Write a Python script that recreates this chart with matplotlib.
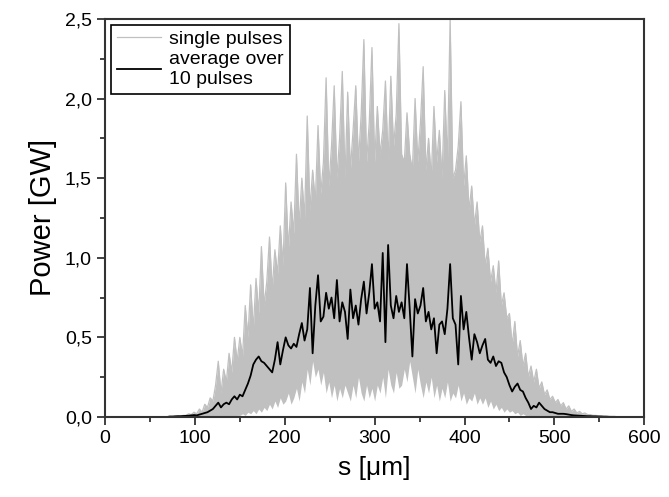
import numpy as np
import matplotlib
matplotlib.use("Agg")
from matplotlib import pyplot as plt
from matplotlib.ticker import MultipleLocator, FuncFormatter

plt.rcParams['font.family'] = ['Liberation Sans', 'DejaVu Sans']

# position grid along the pulse, 3 um step
s = np.arange(60, 571, 3)

# upper edge of the single pulse traces (GW)
single_top = [
    0.0, 0.0, 0.0, 0.0, 0.0, 0.0, 0.005, 0.005, 0.005, 0.01,
    0.01, 0.02, 0.015, 0.03, 0.02, 0.05, 0.03, 0.08, 0.06, 0.12,
    0.1, 0.2, 0.35, 0.15, 0.3, 0.22, 0.4, 0.28, 0.5, 0.35,
    0.5, 0.38, 0.7, 0.5, 0.83, 0.55, 0.87, 0.65, 1.07, 0.7,
    0.85, 1.13, 0.8, 1.05, 0.9, 1.2, 0.95, 1.47, 1.05, 1.35,
    1.15, 1.65, 1.2, 1.5, 1.25, 1.89, 1.3, 1.55, 1.35, 1.83,
    1.4, 1.6, 2.13, 1.45, 1.7, 2.08, 1.5, 1.75, 2.17, 1.5,
    2.04, 1.55, 1.8, 2.08, 1.6, 1.9, 2.37, 1.6, 1.85, 2.32,
    1.6, 1.95, 1.65, 1.8, 2.11, 1.6, 2.14, 1.7, 1.9, 2.47,
    1.65, 1.6, 1.91, 1.65, 1.55, 2.0, 1.6, 1.85, 2.2, 1.55,
    1.75, 1.5, 1.95, 1.6, 1.8, 1.5, 2.05, 1.6, 2.5, 1.5,
    1.55, 1.7, 1.98, 1.45, 1.64, 1.3, 1.45, 1.2, 1.35, 1.1,
    1.2, 0.95, 1.06, 0.85, 0.95, 0.78, 0.98, 0.7, 0.78, 0.62,
    0.65, 0.45, 0.6, 0.38, 0.48, 0.32, 0.4, 0.25, 0.32, 0.22,
    0.3, 0.18, 0.22, 0.14, 0.17, 0.11, 0.13, 0.09, 0.11, 0.07,
    0.09, 0.05, 0.07, 0.035, 0.05, 0.025, 0.035, 0.02, 0.025, 0.015,
    0.015, 0.01, 0.01, 0.008, 0.006, 0.005, 0.004, 0.003, 0.002, 0.001,
    0.0,
]

# lower edge of the single pulse traces (GW)
single_bot = [
    0, 0, 0, 0, 0, 0, 0, 0, 0, 0,
    0, 0, 0, 0, 0, 0, 0, 0, 0, 0,
    0, 0, 0, 0, 0, 0.005, 0, 0.01, 0, 0.01,
    0.01, 0.02, 0.01, 0.03, 0.02, 0.04, 0.02, 0.05, 0.03, 0.06,
    0.04, 0.08, 0.05, 0.1, 0.06, 0.12, 0.08, 0.1, 0.15, 0.08,
    0.12, 0.18, 0.1, 0.22, 0.15, 0.3, 0.2, 0.35, 0.25, 0.3,
    0.2, 0.28, 0.15, 0.22, 0.12, 0.2, 0.1, 0.18, 0.12, 0.2,
    0.15, 0.1, 0.2, 0.12, 0.25, 0.15, 0.1, 0.2, 0.12, 0.18,
    0.1, 0.2, 0.15, 0.25, 0.12, 0.3, 0.2, 0.15, 0.28, 0.18,
    0.2, 0.3, 0.22, 0.35, 0.25, 0.15, 0.3, 0.2, 0.12, 0.22,
    0.15, 0.25, 0.12, 0.2, 0.1, 0.18, 0.12, 0.22, 0.1, 0.15,
    0.12, 0.2, 0.1, 0.15, 0.08, 0.12, 0.1, 0.15, 0.08, 0.12,
    0.08, 0.12, 0.06, 0.1, 0.05, 0.08, 0.04, 0.06, 0.03, 0.05,
    0.03, 0.04, 0.02, 0.03, 0.01, 0.02, 0.01, 0.01, 0.005, 0.005,
    0.005, 0, 0, 0, 0, 0, 0, 0, 0, 0,
    0, 0, 0, 0, 0, 0, 0, 0, 0, 0,
    0, 0, 0, 0, 0, 0, 0, 0, 0, 0,
    0,
]

# average over 10 pulses (GW)
average10 = [
    0.0, 0.0, 0.0, 0.0, 0.003, 0.003, 0.004, 0.005, 0.005, 0.006,
    0.007, 0.008, 0.01, 0.012, 0.01, 0.015, 0.02, 0.025, 0.03, 0.04,
    0.05, 0.07, 0.09, 0.06, 0.08, 0.09, 0.08, 0.11, 0.13, 0.11,
    0.14, 0.13, 0.17, 0.21, 0.26, 0.33, 0.36, 0.38, 0.35, 0.34,
    0.32, 0.3, 0.28, 0.36, 0.47, 0.33, 0.42, 0.5, 0.45, 0.43,
    0.46, 0.44, 0.52, 0.59, 0.48, 0.55, 0.81, 0.4, 0.7, 0.89,
    0.6, 0.63, 0.78, 0.68, 0.75, 0.62, 0.86, 0.6, 0.72, 0.66,
    0.49, 0.8, 0.62, 0.7, 0.58, 0.74, 0.85, 0.65, 0.78, 0.96,
    0.68, 0.72, 0.6, 1.03, 0.47, 1.08, 0.7, 0.62, 0.76, 0.66,
    0.72, 0.62, 0.96, 0.68, 0.38, 0.74, 0.65, 0.7, 0.81, 0.6,
    0.66, 0.55, 0.62, 0.4, 0.58, 0.6, 0.52, 0.68, 0.96, 0.62,
    0.58, 0.33, 0.76, 0.55, 0.66, 0.5, 0.36, 0.52, 0.47, 0.4,
    0.45, 0.49, 0.36, 0.34, 0.38, 0.32, 0.35, 0.34, 0.28, 0.25,
    0.2, 0.16, 0.19, 0.21, 0.17, 0.16, 0.12, 0.09, 0.05, 0.07,
    0.06, 0.09, 0.07, 0.05, 0.04, 0.03, 0.03, 0.025, 0.02, 0.02,
    0.02, 0.018, 0.015, 0.012, 0.01, 0.009, 0.008, 0.007, 0.006, 0.005,
    0.005, 0.004, 0.004, 0.003, 0.003, 0.002, 0.002, 0.001, 0.001, 0.001,
    0.0,
]

fig = plt.figure(figsize=(6.69, 4.97), dpi=100)
ax = fig.add_axes([0.157, 0.161, 0.806, 0.801])

grey = '#c0c0c0'
ax.fill_between(s, single_bot, single_top, color=grey, lw=0)
ax.plot(s, single_top, color=grey, lw=0.9, label='single pulses')
ax.plot(s, average10, color='black', lw=1.3, label='average over\n10 pulses')

ax.set_xlim(0, 600)
ax.set_ylim(0, 2.5)
ax.xaxis.set_major_locator(MultipleLocator(100))
ax.xaxis.set_minor_locator(MultipleLocator(50))
ax.yaxis.set_major_locator(MultipleLocator(0.5))
ax.yaxis.set_minor_locator(MultipleLocator(0.25))
ax.yaxis.set_major_formatter(FuncFormatter(lambda v, p: ('%.1f' % v).replace('.', ',')))

for sp in ax.spines.values():
    sp.set_color('#333333')
    sp.set_linewidth(1.5)
ax.tick_params(which='both', direction='out', top=False, right=False,
               color='#333333', width=1.3)
ax.tick_params(which='major', length=6, labelsize=14)
ax.tick_params(which='minor', length=3.5)

ax.set_xlabel('s [\u03bcm]', fontsize=19, labelpad=6)
ax.set_ylabel('Power [GW]', fontsize=21, labelpad=6)

leg = ax.legend(loc='upper left', fontsize=14, frameon=True, fancybox=False,
                borderaxespad=0.3, handlelength=2.3, handletextpad=0.4,
                labelspacing=0.15, borderpad=0.3)
leg.get_frame().set_edgecolor('black')
leg.get_frame().set_linewidth(1.2)
leg.get_frame().set_alpha(1)

fig.savefig('out.png', dpi=100)
